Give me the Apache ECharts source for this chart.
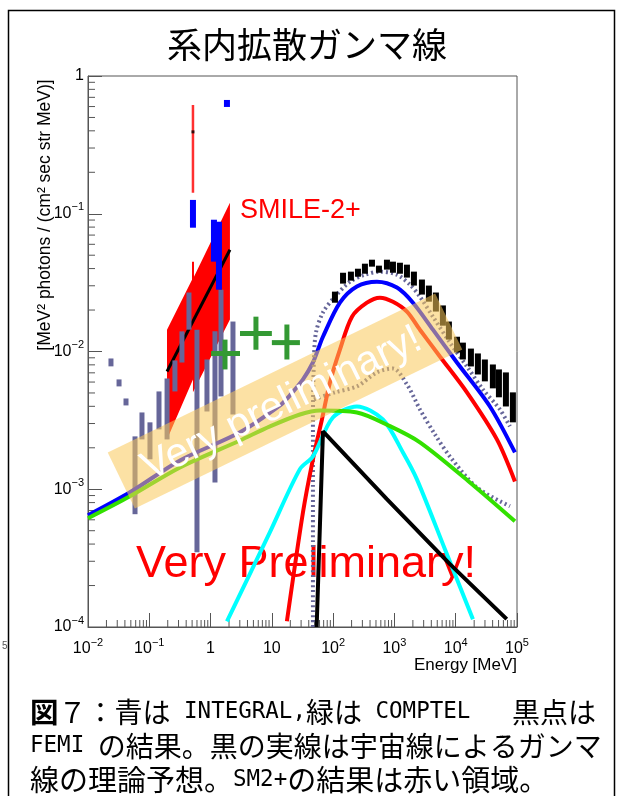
<!DOCTYPE html>
<html><head><meta charset="utf-8">
<script src="https://cdn.jsdelivr.net/npm/echarts@6.0.0/dist/echarts.min.js"></script>
<style>html,body{margin:0;padding:0;background:#fff;}#c{width:624px;height:796px;}</style>
</head><body><div id="c"></div>
<script>
// ---- axis ticks ----
const X_TICK_EXP = [-2,-1,0,1,2,3,4,5];
const Y_TICK_EXP = [-4,-3,-2,-1,0];
const MINOR_MULT = [2,3,4,5,6,7,8,9];

// ---- Fermi (black bars): energy MeV, low, high ----
const FERMI_E  = [107,145,195,254,330,430,559,755,946,1230,1600,2080,2810,3650,4750,6180,7740,10500,13100,17700,23000,29900,40400,50700,65900,85700];
const FERMI_HI = [2.72e-2,3.73e-2,3.80e-2,3.99e-2,4.34e-2,4.64e-2,4.20e-2,4.64e-2,4.49e-2,4.41e-2,4.27e-2,3.80e-2,3.33e-2,3.01e-2,2.68e-2,2.16e-2,1.65e-2,1.28e-2,1.16e-2,1.05e-2,9.68e-3,8.75e-3,8.05e-3,7.41e-3,7.05e-3,5.05e-3];
const FERMI_LO = [2.26e-2,3.11e-2,3.27e-2,3.49e-2,3.67e-2,4.13e-2,3.73e-2,3.93e-2,3.73e-2,3.67e-2,3.44e-2,3.01e-2,2.59e-2,2.30e-2,1.95e-2,1.54e-2,1.22e-2,9.84e-3,8.75e-3,7.79e-3,6.81e-3,6.07e-3,5.40e-3,4.65e-3,3.99e-3,3.06e-3];

// ---- grey-blue bars ----
const GREY_E  = [0.0237,0.0321,0.0417,0.0585,0.076,0.1026,0.144,0.195,0.262,0.341,0.444,0.600,0.873,1.18,1.48,2.32];
const GREY_HI = [8.9e-3,6.27e-3,4.56e-3,2.42e-3,3.61e-3,3.06e-3,5.13e-3,6.37e-3,8.61e-3,1.40e-2,2.68e-2,1.44e-2,8.75e-3,1.40e-2,2.81e-2,1.65e-2];
const GREY_LO = [7.8e-3,5.58e-3,4.06e-3,6.59e-4,2.30e-3,1.65e-3,2.72e-3,2.30e-3,5.13e-3,8.32e-3,1.44e-2,3.49e-4,3.67e-3,1.12e-3,4.72e-3,3.49e-3];

// ---- INTEGRAL (blue bars) ----
const INTEGRAL_E  = [0.516,1.135,1.37,1.85];
const INTEGRAL_HI = [0.126,9.05e-2,8.75e-2,0.670];
const INTEGRAL_LO = [7.92e-2,4.49e-2,2.81e-2,0.596];

// ---- COMPTEL (green crosses) ----
const COMPTEL_E    = [1.72,5.5,17.6];
const COMPTEL_ELO  = [1.02,3.02,10.0];
const COMPTEL_EHI  = [3.02,10.0,28.7];
const COMPTEL_V    = [9.67e-3,1.35e-2,1.16e-2];
const COMPTEL_VLO  = [7.41e-3,1.03e-2,8.75e-3];
const COMPTEL_VHI  = [1.22e-2,1.79e-2,1.57e-2];

// ---- SMILE-2+ band ----
const BAND_UP_E = [0.1946,0.498,0.498,0.536,0.536,2.07];
const BAND_UP_V = [1.44e-2,3.32e-2,4.49e-2,4.49e-2,3.49e-2,0.120];
const BAND_LO_E = [2.07,0.516,0.516,0.1946];
const BAND_LO_V = [1.71e-2,5.05e-3,6.27e-3,2.30e-3];
const SMILE_FIT_E = [0.1946,2.07];
const SMILE_FIT_V = [7.16e-3,5.48e-2];
const SMILE_ERR_E = [0.516,0.516];
const SMILE_ERR_V = [0.616,0.142];
const SMILE_PT = [0.516,0.393];

// ---- model curves ----
const BLUE_E = [0.01,0.0484,0.317,3.02,13.6,19.7,32.2,46.8,56.5,68.2,129,244,519,1099,2005,4246,10470,36150,92470];
const BLUE_V = [6.48e-4,9.51e-4,1.62e-3,2.59e-3,4.06e-3,4.80e-3,6.27e-3,8.32e-3,1.03e-2,1.28e-2,2.26e-2,2.96e-2,3.21e-2,2.91e-2,2.26e-2,1.44e-2,8.32e-3,3.99e-3,1.85e-3];
const GREEN_E = [0.01,0.0484,0.317,3.02,9.31,28.7,60.9,244,845,2606,17060,92470];
const GREEN_V = [6.16e-4,8.89e-4,1.44e-3,2.26e-3,2.86e-3,3.49e-3,3.73e-3,3.61e-3,2.87e-3,2.19e-3,1.12e-3,5.86e-4];
const RED_E = [17.6,32.2,46.8,65.6,88.7,129,203,356,580,946,1600,2606,5521,15240,46990,92470];
const RED_V = [1.10e-4,6.81e-4,1.65e-3,3.21e-3,5.96e-3,1.03e-2,1.79e-2,2.26e-2,2.46e-2,2.30e-2,1.95e-2,1.44e-2,9.20e-3,5.05e-3,2.30e-3,1.14e-3];
const CYAN_E = [1.85,9.3,28.7,46.8,99,244,649,1377,2328,6668,19100];
const CYAN_V = [1.10e-4,4.88e-4,1.40e-3,1.73e-3,3.32e-3,3.99e-3,3.21e-3,1.85e-3,1.18e-3,3.67e-4,1.14e-4];
const OUTER_E = [46.8,46.8,48.6,52.4,68.2,107,188,330,580,1099,1791,2606,4246,8040,15240,27800,52600,76600];
const OUTER_V = [1.0e-4,3.21e-3,8.75e-3,1.37e-2,1.92e-2,2.50e-2,3.21e-2,3.61e-2,3.80e-2,3.61e-2,3.06e-2,2.50e-2,1.79e-2,1.16e-2,7.79e-3,5.30e-3,3.80e-3,2.86e-3];
const INNER_E = [48.6,107,244,519,946,1600,2606,4580,8040,22180,76600];
const INNER_V = [4.49e-3,5.05e-3,5.58e-3,7.05e-3,7.53e-3,5.77e-3,3.80e-3,2.50e-3,1.73e-3,1.03e-3,7.53e-4];
const CR_E = [53.8,68.2,746,8040,68000];
const CR_V = [1.0e-4,2.63e-3,8.5e-4,2.86e-4,1.14e-4];

const zip = (a,b) => a.map((v,i)=>[v,b[i]]);
const FONT = "'Liberation Sans', Arial, sans-serif";
const JP = "'Noto Sans CJK JP', sans-serif";
const MONO = "'DejaVu Sans Mono', monospace";
const AX = '#555';

function barRender(width, color){
  return function(params, api){
    const e = api.value(0), lo = api.value(1), hi = api.value(2);
    const p1 = api.coord([e, hi]), p2 = api.coord([e, lo]);
    return {type:'rect', shape:{x:p1[0]-width/2, y:p1[1], width:width, height:Math.max(1,p2[1]-p1[1])}, style:{fill:color}};
  };
}
function supLabel(v){
  const e = Math.round(Math.log10(v));
  if (e === 0) return '{b|1}';
  if (e === 1) return '{b|10}';
  return '{b|10}{s|' + (e<0?'\u2212':'') + Math.abs(e) + '}';
}
const RICH = {
  b:{fontSize:16, fontFamily:FONT, color:'#000', lineHeight:24},
  s:{fontSize:11, fontFamily:FONT, color:'#000', lineHeight:11, verticalAlign:'top'}
};
const minorX = [], minorY = [];
X_TICK_EXP.slice(0,-1).forEach(e=>MINOR_MULT.forEach(m=>minorX.push([m*Math.pow(10,e), 1e-4])));
Y_TICK_EXP.slice(0,-1).forEach(e=>MINOR_MULT.forEach(m=>minorY.push([0.01, m*Math.pow(10,e)])));

const chart = echarts.init(document.getElementById('c'), null, {renderer:'canvas'});
const lineBase = {type:'line', showSymbol:false, symbol:'none', silent:true, clip:true};

chart.setOption({
  animation:false,
  backgroundColor:'#fff',
  grid:{left:88, right:107, top:76, bottom:169, show:true, borderColor:AX, borderWidth:1, backgroundColor:'transparent'},
  xAxis:{type:'log', logBase:10, min:0.01, max:1e5, interval:1, splitNumber:7,
    axisLine:{lineStyle:{color:AX}}, axisTick:{inside:true, length:14, lineStyle:{color:AX}},
    splitLine:{show:false},
    axisLabel:{formatter:supLabel, fontSize:16, fontFamily:FONT, color:'#000', margin:10, rich:RICH}},
  yAxis:{type:'log', logBase:10, min:1e-4, max:1, interval:1, splitNumber:4,
    axisLine:{lineStyle:{color:AX}}, axisTick:{inside:true, length:14, lineStyle:{color:AX}},
    splitLine:{show:false},
    axisLabel:{formatter:supLabel, fontSize:16, fontFamily:FONT, color:'#000', margin:4, rich:RICH}},
  series:[
    {type:'custom', silent:true, z:1, data:minorX, renderItem:function(p,api){
      const c = api.coord([api.value(0), api.value(1)]);
      return {type:'line', shape:{x1:c[0],y1:c[1],x2:c[0],y2:c[1]-7}, style:{stroke:AX, lineWidth:1}};}},
    {type:'custom', silent:true, z:1, data:minorY, renderItem:function(p,api){
      const c = api.coord([api.value(0), api.value(1)]);
      return {type:'line', shape:{x1:c[0],y1:c[1],x2:c[0]+7,y2:c[1]}, style:{stroke:AX, lineWidth:1}};}},
    // SMILE band
    {type:'custom', silent:true, z:2, data:[[BAND_UP_E[0], BAND_UP_V[0]]], renderItem:function(p,api){
      const pts = zip(BAND_UP_E,BAND_UP_V).concat(zip(BAND_LO_E,BAND_LO_V)).map(d=>api.coord(d));
      return {type:'polygon', shape:{points:pts}, style:{fill:'#ff0000'}};}},
    Object.assign({}, lineBase, {z:3, data:zip(SMILE_FIT_E,SMILE_FIT_V), lineStyle:{color:'#000', width:3}}),
    Object.assign({}, lineBase, {z:3, data:zip(SMILE_ERR_E,SMILE_ERR_V), lineStyle:{color:'#ff3030', width:2.5}}),
    {type:'scatter', silent:true, z:4, data:[SMILE_PT], symbol:'rect', symbolSize:3, itemStyle:{color:'#000'}},
    // grey bars
    {type:'custom', silent:true, z:4, data:GREY_E.map((e,i)=>[e,GREY_LO[i],GREY_HI[i]]), encode:{x:0,y:[1,2]}, renderItem:barRender(5,'#666699')},
    // INTEGRAL
    {type:'custom', silent:true, z:4, data:INTEGRAL_E.map((e,i)=>[e,INTEGRAL_LO[i],INTEGRAL_HI[i]]), encode:{x:0,y:[1,2]}, renderItem:barRender(6,'#0000ff')},
    // model curves
    Object.assign({}, lineBase, {z:5, data:zip(BLUE_E,BLUE_V), smooth:0.3, lineStyle:{color:'#0000ff', width:4}}),
    Object.assign({}, lineBase, {z:5, data:zip(OUTER_E,OUTER_V), smooth:0.3, lineStyle:{color:'#666699', width:4, type:[2,3]}}),
    Object.assign({}, lineBase, {z:5, data:zip(INNER_E,INNER_V), smooth:0.3, lineStyle:{color:'#666699', width:4, type:[2,3]}}),
    Object.assign({}, lineBase, {z:5, data:zip(RED_E,RED_V), smooth:0.3, lineStyle:{color:'#ff0000', width:4}}),
    Object.assign({}, lineBase, {z:5, data:zip(CYAN_E,CYAN_V), smooth:0.3, lineStyle:{color:'#00ffff', width:4}}),
    Object.assign({}, lineBase, {z:6, data:zip(GREEN_E,GREEN_V), smooth:0.3, lineStyle:{color:'#33e000', width:4}}),
    Object.assign({}, lineBase, {z:6, data:zip(CR_E,CR_V), lineStyle:{color:'#000', width:4}}),
    // Fermi
    {type:'custom', silent:true, z:7, data:FERMI_E.map((e,i)=>[e,FERMI_LO[i],FERMI_HI[i]]), encode:{x:0,y:[1,2]}, renderItem:barRender(6,'#000')},
    // COMPTEL crosses
    {type:'custom', silent:true, z:8, data:COMPTEL_E.map((e,i)=>[e,COMPTEL_V[i],COMPTEL_ELO[i],COMPTEL_EHI[i],COMPTEL_VLO[i],COMPTEL_VHI[i]]), encode:{x:0,y:1},
      renderItem:function(p,api){
        const e=api.value(0), v=api.value(1);
        const a=api.coord([api.value(2),v]), b=api.coord([api.value(3),v]);
        const c=api.coord([e,api.value(4)]), d=api.coord([e,api.value(5)]);
        return {type:'group', children:[
          {type:'line', shape:{x1:a[0],y1:a[1],x2:b[0],y2:b[1]}, style:{stroke:'#339933', lineWidth:5}},
          {type:'line', shape:{x1:c[0],y1:c[1],x2:d[0],y2:d[1]}, style:{stroke:'#339933', lineWidth:5}}]};
      }}
  ],
  graphic:[
    {type:'rect', z:0, shape:{x:8.5,y:10.5,width:606,height:800}, style:{fill:'none', stroke:'#000', lineWidth:1.5}},
    {type:'text', z:10, x:307, y:45, style:{text:'系内拡散ガンマ線', fontSize:35, fontFamily:JP, fill:'#000', align:'center', verticalAlign:'middle'}},
    {type:'text', z:10, x:45, y:215, rotation:Math.PI/2, style:{text:'[MeV\u00b2 photons / (cm\u00b2 sec str MeV)]', fontSize:17.5, fontFamily:FONT, fill:'#000', align:'center', verticalAlign:'middle'}},
    {type:'text', z:10, x:517, y:665, style:{text:'Energy [MeV]', fontSize:17, fontFamily:FONT, fill:'#000', align:'right', verticalAlign:'middle'}},
    {type:'text', z:10, x:2, y:646, style:{text:'5', fontSize:10, fontFamily:FONT, fill:'#555', align:'left', verticalAlign:'middle'}},
    {type:'text', z:1, x:306, y:565, style:{text:'Very Preliminary!', fontSize:45, fontFamily:FONT, fill:'#ff0000', align:'center', verticalAlign:'middle'}},
    {type:'text', z:10, x:240, y:211, style:{text:'SMILE-2+', fontSize:27, fontFamily:FONT, fill:'#ff0000', align:'left', verticalAlign:'middle'}},
    {type:'rect', z:100, x:285, y:401, rotation:25.9*Math.PI/180, shape:{x:-182,y:-31,width:364,height:62}, style:{fill:'rgba(250,200,90,0.55)'}},
    {type:'text', z:101, x:282, y:404, rotation:25.9*Math.PI/180, style:{text:'Very preliminary!', fontSize:41, fontFamily:FONT, fill:'#fff', align:'center', verticalAlign:'middle'}},
    {type:'text', z:10, x:30, y:712, style:{text:'{b|図}{j|７：青は}{m| INTEGRAL,}{j|緑は}{m| COMPTEL}{j|　}{m| }{j|黒点は}', fill:'#000', align:'left', verticalAlign:'middle',
      rich:{b:{fontSize:28.5, fontWeight:'bold', fontFamily:JP}, j:{fontSize:28, fontFamily:JP}, m:{fontSize:22.5, fontFamily:MONO}}}},
    {type:'text', z:10, x:30, y:746, style:{text:'{m|FEMI }{j|の結果。黒の実線は宇宙線によるガンマ}', fill:'#000', align:'left', verticalAlign:'middle',
      rich:{j:{fontSize:28, fontFamily:JP}, m:{fontSize:22.5, fontFamily:MONO}}}},
    {type:'text', z:10, x:30, y:780, style:{text:'{j|線の理論予想。}{m|SM2+}{j|の結果は赤い領域。}', fill:'#000', align:'left', verticalAlign:'middle',
      rich:{j:{fontSize:29, fontFamily:JP}, m:{fontSize:22.5, fontFamily:MONO}}}}
  ]
});
</script></body></html>
